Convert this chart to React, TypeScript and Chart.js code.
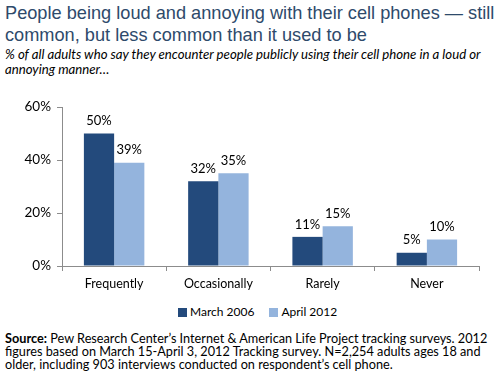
import React, { useEffect, useRef } from "react";
import { Chart, registerables } from "chart.js";

Chart.register(...registerables);

const categories = ["Frequently", "Occasionally", "Rarely", "Never"];
const march2006 = [50, 32, 11, 5];
const april2012 = [39, 35, 15, 10];
const seriesNames = ["March 2006", "April 2012"];
const yTicks = [0, 20, 40, 60];

const DARK = "#234a7c";
const LIGHT = "#94b4dd";
const BODY_FONT = "Lato, 'Open Sans', sans-serif";

const valueLabels = {
  id: "valueLabels",
  afterDatasetsDraw(chart: any) {
    const ctx = chart.ctx;
    ctx.save();
    ctx.font = `13px ${BODY_FONT}`;
    ctx.fillStyle = "#000";
    ctx.textAlign = "center";
    ctx.textBaseline = "bottom";
    chart.data.datasets.forEach((ds: any, i: number) => {
      const meta = chart.getDatasetMeta(i);
      meta.data.forEach((bar: any, j: number) => {
        ctx.fillText(ds.data[j] + "%", bar.x, bar.y - 6);
      });
    });
    ctx.restore();
  },
};

export default function App() {
  const ref = useRef<HTMLCanvasElement>(null);

  useEffect(() => {
    document.body.style.margin = "0";
    const chart = new Chart(ref.current!, {
      type: "bar",
      data: {
        labels: categories,
        datasets: [
          { label: seriesNames[0], data: march2006, backgroundColor: DARK, categoryPercentage: 0.58, barPercentage: 1 },
          { label: seriesNames[1], data: april2012, backgroundColor: LIGHT, categoryPercentage: 0.58, barPercentage: 1 },
        ],
      },
      options: {
        animation: false,
        responsive: false,
        layout: { padding: { left: 0, right: 23, top: 6, bottom: 0 } },
        plugins: { legend: { display: false }, tooltip: { enabled: false }, title: { display: false } },
        scales: {
          x: {
            grid: { drawOnChartArea: false, drawTicks: true, tickLength: 5, color: "#8c8c8c", offset: true },
            border: { display: true, color: "#8c8c8c" },
            ticks: { color: "#000", font: { family: BODY_FONT, size: 12.5 }, padding: 5 },
          },
          y: {
            min: 0,
            max: 60,
            afterFit(scale: any) { scale.width = 62; },
            afterBuildTicks(scale: any) { scale.ticks = yTicks.map((v) => ({ value: v })); },
            grid: { drawOnChartArea: false, drawTicks: true, tickLength: 5, color: "#8c8c8c" },
            border: { display: true, color: "#8c8c8c" },
            ticks: { color: "#000", font: { family: BODY_FONT, size: 13.5 }, padding: 6, callback: (v: any) => v + "%" },
          },
        },
      },
      plugins: [valueLabels],
    });
    return () => chart.destroy();
  }, []);

  return (
    <div style={{ position: "relative", width: 502, height: 376, background: "#fff", overflow: "hidden" }}>
      <div style={{ position: "absolute", left: 5, top: 2, fontFamily: "'Liberation Sans', Arial, sans-serif", fontSize: 18.2, lineHeight: "22px", color: "#2e4a6b", whiteSpace: "nowrap" }}>
        People being loud and annoying with their cell phones — still<br />common, but less common than it used to be
      </div>
      <div style={{ position: "absolute", left: 5, top: 47, fontFamily: BODY_FONT, fontStyle: "italic", fontSize: 13.2, lineHeight: "15px", color: "#000", whiteSpace: "nowrap" }}>
        % of all adults who say they encounter people publicly using their cell phone in a loud or<br />annoying manner…
      </div>
      <canvas ref={ref} width={502} height={203} style={{ position: "absolute", left: 0, top: 93, width: 502, height: 203 }} />
      <div style={{ position: "absolute", left: 178, top: 304, fontFamily: BODY_FONT, fontSize: 12, lineHeight: "16px", color: "#000", whiteSpace: "nowrap", display: "flex", alignItems: "center" }}>
        <span style={{ display: "inline-block", width: 9, height: 9, background: DARK, marginRight: 3 }} />
        <span>{seriesNames[0]}</span>
        <span style={{ display: "inline-block", width: 9, height: 9, background: LIGHT, marginLeft: 15, marginRight: 3 }} />
        <span>{seriesNames[1]}</span>
      </div>
      <div style={{ position: "absolute", left: 5, top: 332, fontFamily: BODY_FONT, fontSize: 12.7, lineHeight: "13px", color: "#000", whiteSpace: "nowrap" }}>
        <b>Source:</b> Pew Research Center’s Internet &amp; American Life Project tracking surveys. 2012<br />
        figures based on March 15-April 3, 2012 Tracking survey. N=2,254 adults ages 18 and<br />
        older, including 903 interviews conducted on respondent’s cell phone.
      </div>
    </div>
  );
}
